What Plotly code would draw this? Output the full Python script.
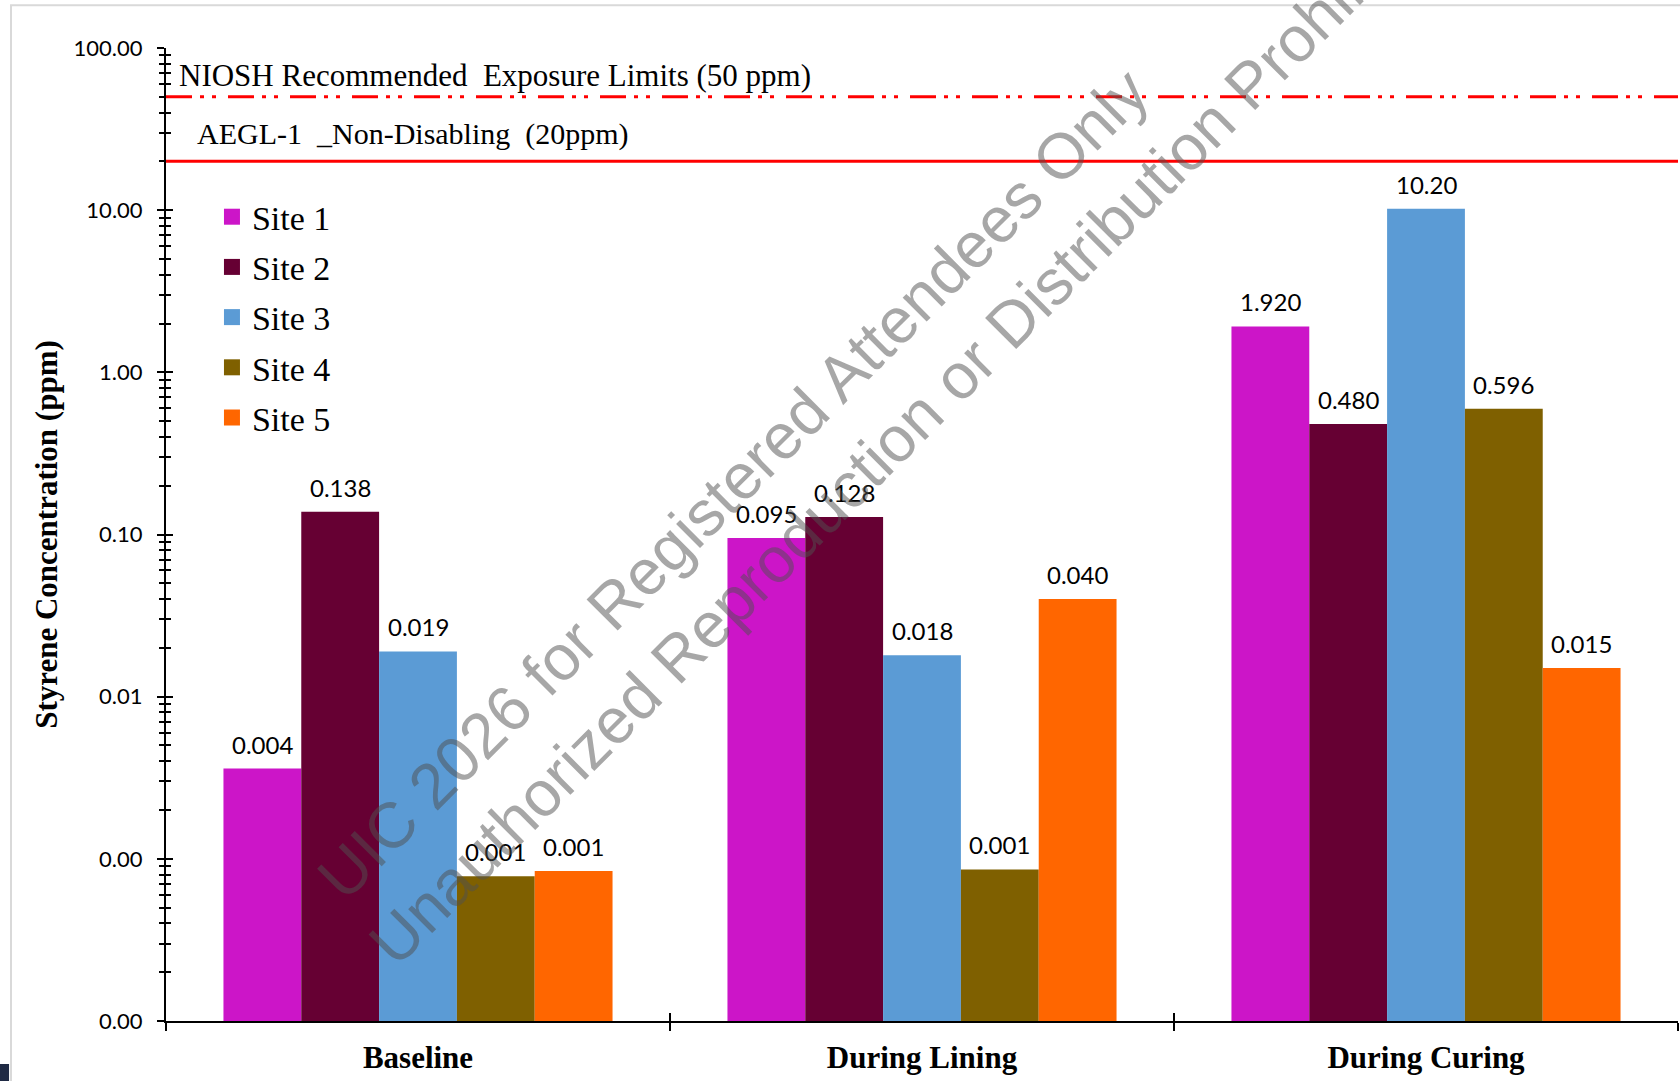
import numpy as np
import plotly.graph_objects as go

# ---------------- data ----------------
categories = ["Baseline", "During Lining", "During Curing"]
sites = ["Site 1", "Site 2", "Site 3", "Site 4", "Site 5"]
site1 = [0.0036, 0.095, 1.92]
site2 = [0.138, 0.128, 0.48]
site3 = [0.019, 0.018, 10.2]
site4 = [0.00078, 0.00086, 0.596]
site5 = [0.00084, 0.040, 0.015]
series = [site1, site2, site3, site4, site5]
colors = ["#CC15C8", "#660033", "#5B9BD5", "#7F6000", "#FF6600"]

y_tickvals = [1e-4, 1e-3, 1e-2, 1e-1, 1, 10, 100]
y_ticktext = ["0.00", "0.00", "0.01", "0.10", "1.00", "10.00", "100.00"]

niosh_limit = 50
aegl_limit = 20
niosh_text = "NIOSH Recommended  Exposure Limits (50 ppm)"
aegl_text = "AEGL-1  _Non-Disabling  (20ppm)"
watermark1 = "UIC 2026 for Registered Attendees Only"
watermark2 = "Unauthorized Reproduction or Distribution Prohibited"

minor_vals = [m * 10.0 ** k for k in range(-4, 2) for m in range(2, 10)]

SERIF = "Liberation Serif"
SANS = "Lato"
BARGAP = 0.228


def fmt(v):
    return f"{v:.2f}" if v >= 10 else f"{v:.3f}"


fig = go.Figure()

for name, vals, col in zip(sites, series, colors):
    fig.add_trace(go.Bar(
        x=categories, y=vals, name=name, marker=dict(color=col, line=dict(width=0)),
        showlegend=False,
    ))

# legend entries (square markers)
for i, (name, col) in enumerate(zip(sites, colors)):
    fig.add_trace(go.Scatter(
        x=[None], y=[None], mode="markers", name=name, legendgroup=f"g{i}",
        marker=dict(symbol="square", size=21, color=col),
    ))

# invisible helper trace for the crossing-tick overlay axes
fig.add_trace(go.Scatter(
    x=categories, y=[1, 1, 1], xaxis="x2", yaxis="y2", mode="markers",
    marker=dict(opacity=0), showlegend=False, hoverinfo="skip",
))

# limit lines
fig.add_shape(type="line", xref="paper", x0=0, x1=1, yref="y",
              y0=niosh_limit, y1=niosh_limit,
              line=dict(color="#FF0000", width=3, dash="26px,8px,4px,8px,4px,12px"))
fig.add_shape(type="line", xref="paper", x0=0, x1=1, yref="y",
              y0=aegl_limit, y1=aegl_limit,
              line=dict(color="#FF0000", width=3))

# light frame and dark corner of the screenshot
fig.add_shape(type="rect", xref="paper", yref="paper",
              x0=-0.1025, x1=1.2, y0=-0.3, y1=1.044,
              line=dict(color="#D9D9D9", width=2), layer="below")
fig.add_shape(type="rect", xref="paper", yref="paper",
              x0=-0.12, x1=-0.1038, y0=-0.07, y1=-0.0442,
              line=dict(width=0), fillcolor="#1F2A44", layer="above")

annotations = []
# value labels above bars
bw = (1 - BARGAP) / len(sites)
for i, vals in enumerate(series):
    for j, v in enumerate(vals):
        annotations.append(dict(
            text=fmt(v), x=j + (i - (len(sites) - 1) / 2) * bw, xref="x",
            y=np.log10(v), yref="y", xanchor="center", yanchor="bottom",
            yshift=8, showarrow=False,
            font=dict(family=SANS, size=24, color="black"),
        ))

annotations += [
    dict(text=niosh_text, xref="paper", yref="paper", x=0.0073, y=0.972,
         xanchor="left", yanchor="middle", showarrow=False,
         font=dict(family=SERIF, size=31, color="black")),
    dict(text=aegl_text, xref="paper", yref="paper", x=0.0192, y=0.9116,
         xanchor="left", yanchor="middle", showarrow=False,
         font=dict(family=SERIF, size=30, color="black")),
    dict(text=watermark1, xref="paper", yref="paper", x=0.375, y=0.552,
         xanchor="center", yanchor="middle", showarrow=False, textangle=-45,
         font=dict(family="Liberation Sans", size=64, color="rgba(80,80,80,0.5)")),
    dict(text=watermark2, xref="paper", yref="paper", x=0.492, y=0.614,
         xanchor="center", yanchor="middle", showarrow=False, textangle=-45,
         font=dict(family="Liberation Sans", size=64, color="rgba(80,80,80,0.5)")),
]

fig.update_layout(
    width=1680, height=1081,
    margin=dict(l=166, r=2, t=48, b=60),
    paper_bgcolor="white", plot_bgcolor="white",
    barmode="group", bargap=BARGAP, bargroupgap=0,
    annotations=annotations,
    legend=dict(x=0.0304, y=0.856, xanchor="left", yanchor="top",
                font=dict(family=SERIF, size=34, color="black"),
                bgcolor="rgba(0,0,0,0)", tracegroupgap=3),
    xaxis=dict(
        type="category", categoryarray=categories, range=[-0.5, 2.5],
        showline=True, linecolor="black", linewidth=2,
        ticks="outside", tickson="boundaries", ticklen=8, tickwidth=2, tickcolor="black",
        tickfont=dict(family=SERIF, size=31, color="black", weight="bold"),
        ticklabelstandoff=8,
        showgrid=False, zeroline=False,
    ),
    xaxis2=dict(
        type="category", categoryarray=categories, range=[-0.5, 2.5],
        overlaying="x", anchor="y2", showline=False,
        ticks="inside", tickson="boundaries", ticklen=8, tickwidth=2, tickcolor="black",
        showticklabels=False, showgrid=False, zeroline=False,
    ),
    yaxis=dict(
        type="log", range=[-4, 2], tickmode="array",
        tickvals=y_tickvals, ticktext=y_ticktext,
        showline=True, linecolor="black", linewidth=2,
        ticks="outside", ticklen=7, tickwidth=2, tickcolor="black",
        minor=dict(tickmode="array", tickvals=minor_vals, ticks="outside",
                   ticklen=5, tickwidth=1.5, tickcolor="black", showgrid=False),
        tickfont=dict(family=SANS, size=22, color="black"), ticklabelstandoff=10,
        showgrid=False, zeroline=False,
        title=dict(text="Styrene Concentration (ppm)", standoff=7,
                   font=dict(family=SERIF, size=31, color="black", weight="bold")),
    ),
    yaxis2=dict(
        type="log", range=[-4, 2], tickmode="array", tickvals=y_tickvals,
        overlaying="y", anchor="x2", side="left", showline=False,
        ticks="inside", ticklen=7, tickwidth=2, tickcolor="black",
        minor=dict(tickmode="array", tickvals=minor_vals, ticks="inside",
                   ticklen=5, tickwidth=1.5, tickcolor="black", showgrid=False),
        showticklabels=False, showgrid=False, zeroline=False,
    ),
)

fig.write_html("out.html")
